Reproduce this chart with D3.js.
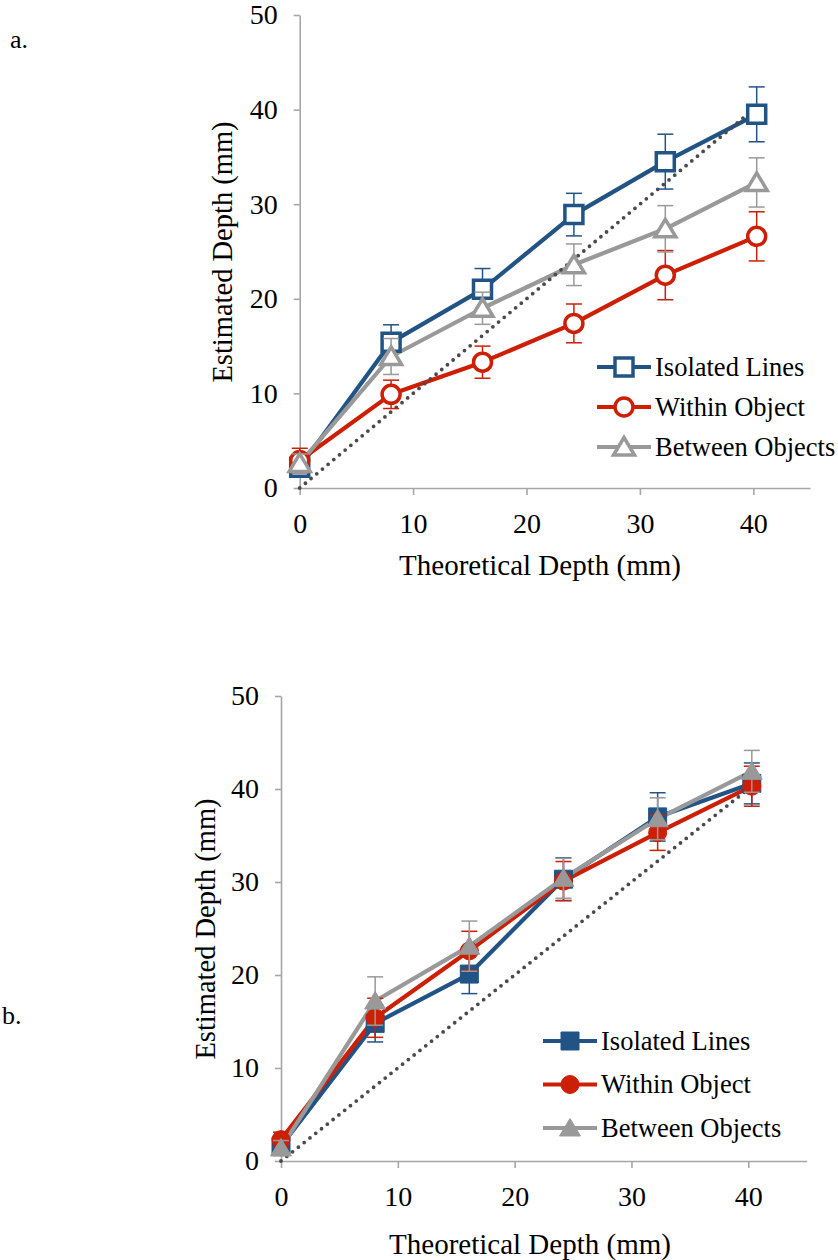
<!DOCTYPE html>
<html>
<head>
<style type="text/css">
  body { margin: 0; background: #fff; }
  svg { display: block; }
  .axis path, .axis line { stroke: #a6a6a6; stroke-width: 1.6px; }
  .axis text { font-family: "Liberation Serif", "Times New Roman", serif; font-size: 28px; fill: #000; }
  .title, .legend text, .panel-tag { font-family: "Liberation Serif", "Times New Roman", serif; fill: #000; }
</style>
</head>
<body>
<svg></svg>
<script src="https://cdnjs.cloudflare.com/ajax/libs/d3/7.8.5/d3.min.js"></script>
<script>
  var width = 838;
  var height = 1260;

  // theoretical depth (mm), shared by both panels
  var theoDepth = [0, 8.06, 16.12, 24.18, 32.24, 40.3];
  var xTicks = [0, 10, 20, 30, 40];
  var yTicks = [0, 10, 20, 30, 40, 50];
  var seriesNames = ['Isolated Lines', 'Within Object', 'Between Objects'];
  var seriesColors = ['#215485', '#cc1f05', '#999999'];

  // panel a (hollow markers)
  var aIsolated = [2.2, 15.4, 21.0, 28.9, 34.5, 39.5];
  var aIsolatedErr = [1.0, 1.85, 2.2, 2.25, 2.9, 2.9];
  var aWithin = [2.9, 9.9, 13.3, 17.4, 22.5, 26.6];
  var aWithinErr = [1.3, 1.5, 1.7, 2.05, 2.6, 2.6];
  var aBetween = [2.6, 13.9, 19.0, 23.6, 27.4, 32.3];
  var aBetweenErr = [1.0, 1.9, 1.7, 2.2, 2.45, 2.6];

  // panel b (filled markers)
  var bIsolated = [1.6, 14.8, 20.1, 30.3, 37.0, 40.6];
  var bIsolatedErr = [1.0, 2.0, 2.1, 2.3, 2.6, 2.2];
  var bWithin = [2.3, 15.4, 22.6, 30.1, 35.3, 40.3];
  var bWithinErr = [0.8, 2.1, 2.1, 2.1, 1.9, 2.15];
  var bBetween = [1.4, 17.2, 23.1, 30.4, 36.8, 41.9];
  var bBetweenErr = [0.8, 2.6, 2.7, 2.15, 2.25, 2.25];

  // ideal (estimated = theoretical) reference line
  var idealX = [0, 40.2];
  var idealY = [0, 40.2];

  var svg = d3.select('svg')
    .attr('width', width)
    .attr('height', height);

  function markerPath(kind) {
    if (kind === 'square') return 'M-9,-9H9V9H-9Z';
    if (kind === 'circle') return 'M9,0A9,9 0 1,1 -9,0A9,9 0 1,1 9,0Z';
    return 'M0,-9.5L10.5,8H-10.5Z';
  }
  var kinds = ['square', 'circle', 'triangle'];

  function drawPanel(opt) {
    var x = d3.scaleLinear().domain([0, 45]).range([opt.left, opt.right]);
    var y = d3.scaleLinear().domain([0, 50]).range([opt.bottom, opt.top]);
    var g = svg.append('g');

    g.append('g')
      .attr('class', 'axis')
      .attr('transform', 'translate(0,' + opt.bottom + ')')
      .call(d3.axisBottom(x).tickValues(xTicks).tickSize(7).tickSizeOuter(0).tickPadding(18));

    g.append('g')
      .attr('class', 'axis')
      .attr('transform', 'translate(' + opt.left + ',0)')
      .call(d3.axisLeft(y).tickValues(yTicks).tickSize(6).tickSizeOuter(0).tickPadding(16));

    var line = d3.line()
      .x(function(d) { return x(d[0]); })
      .y(function(d) { return y(d[1]); });

    // series lines
    opt.series.forEach(function(s, i) {
      g.append('path')
        .datum(theoDepth.map(function(t, k) { return [t, s.values[k]]; }))
        .attr('d', line)
        .attr('fill', 'none')
        .attr('stroke', seriesColors[i])
        .attr('stroke-width', 4.2)
        .attr('stroke-linejoin', 'round');
    });

    // dotted ideal line
    g.append('path')
      .datum(idealX.map(function(v, k) { return [v, idealY[k]]; }))
      .attr('d', line)
      .attr('fill', 'none')
      .attr('stroke', '#4a4a4a')
      .attr('stroke-width', 3.8)
      .attr('stroke-linecap', 'round')
      .attr('stroke-dasharray', '0,7.4');

    // error bars and markers
    opt.series.forEach(function(s, i) {
      var eg = g.append('g')
        .attr('stroke', seriesColors[i])
        .attr('stroke-width', 1.5);
      theoDepth.forEach(function(t, k) {
        var cx = x(t);
        var hi = y(s.values[k] + s.err[k]);
        var lo = y(s.values[k] - s.err[k]);
        eg.append('line').attr('x1', cx).attr('x2', cx).attr('y1', hi).attr('y2', lo);
        eg.append('line').attr('x1', cx - 8).attr('x2', cx + 8).attr('y1', hi).attr('y2', hi);
        eg.append('line').attr('x1', cx - 8).attr('x2', cx + 8).attr('y1', lo).attr('y2', lo);
      });

      g.append('g')
        .selectAll('path')
        .data(theoDepth.map(function(t, k) { return [t, s.values[k]]; }))
        .enter()
        .append('path')
        .attr('d', markerPath(kinds[i]))
        .attr('transform', function(d) { return 'translate(' + x(d[0]) + ',' + y(d[1]) + ')'; })
        .attr('fill', opt.filled ? seriesColors[i] : '#fff')
        .attr('stroke', seriesColors[i])
        .attr('stroke-width', opt.filled ? 1 : 3.5);
    });

    // axis titles
    g.append('text')
      .attr('class', 'title')
      .attr('x', opt.xTitle[0])
      .attr('y', opt.xTitle[1])
      .attr('text-anchor', 'middle')
      .attr('dy', '0.35em')
      .attr('font-size', 29)
      .text('Theoretical Depth (mm)');

    g.append('text')
      .attr('class', 'title')
      .attr('transform', 'translate(' + opt.yTitle[0] + ',' + opt.yTitle[1] + ') rotate(-90)')
      .attr('text-anchor', 'middle')
      .attr('dy', '0.35em')
      .attr('font-size', 28.5)
      .text('Estimated Depth (mm)');

    // legend
    var lg = g.append('g').attr('class', 'legend');
    seriesNames.forEach(function(name, i) {
      var ly = opt.legend[1] + i * opt.legend[2];
      var lx = opt.legend[0];
      lg.append('line')
        .attr('x1', lx).attr('x2', lx + 54)
        .attr('y1', ly).attr('y2', ly)
        .attr('stroke', seriesColors[i])
        .attr('stroke-width', 4.2);
      lg.append('path')
        .attr('d', markerPath(kinds[i]))
        .attr('transform', 'translate(' + (lx + 27) + ',' + ly + ')')
        .attr('fill', opt.filled ? seriesColors[i] : '#fff')
        .attr('stroke', seriesColors[i])
        .attr('stroke-width', opt.filled ? 1 : 3.5);
      lg.append('text')
        .attr('x', lx + 58)
        .attr('y', ly)
        .attr('dy', '0.33em')
        .attr('font-size', 26.5)
        .text(name);
    });

    svg.append('text')
      .attr('class', 'panel-tag')
      .attr('x', opt.tag[0])
      .attr('y', opt.tag[1])
      .attr('font-size', 26)
      .text(opt.tag[2]);
  }

  drawPanel({
    left: 299.7, right: 810, bottom: 488, top: 15,
    filled: false,
    series: [
      {values: aIsolated, err: aIsolatedErr},
      {values: aWithin, err: aWithinErr},
      {values: aBetween, err: aBetweenErr}
    ],
    xTitle: [540, 565],
    yTitle: [222, 252],
    legend: [597, 367, 40],
    tag: [10, 48, 'a.']
  });

  drawPanel({
    left: 281, right: 806.7, bottom: 1161, top: 696,
    filled: true,
    series: [
      {values: bIsolated, err: bIsolatedErr},
      {values: bWithin, err: bWithinErr},
      {values: bBetween, err: bBetweenErr}
    ],
    xTitle: [530, 1244],
    yTitle: [205, 929],
    legend: [543, 1041, 43.5],
    tag: [2, 1024, 'b.']
  });
</script>
</body>
</html>
